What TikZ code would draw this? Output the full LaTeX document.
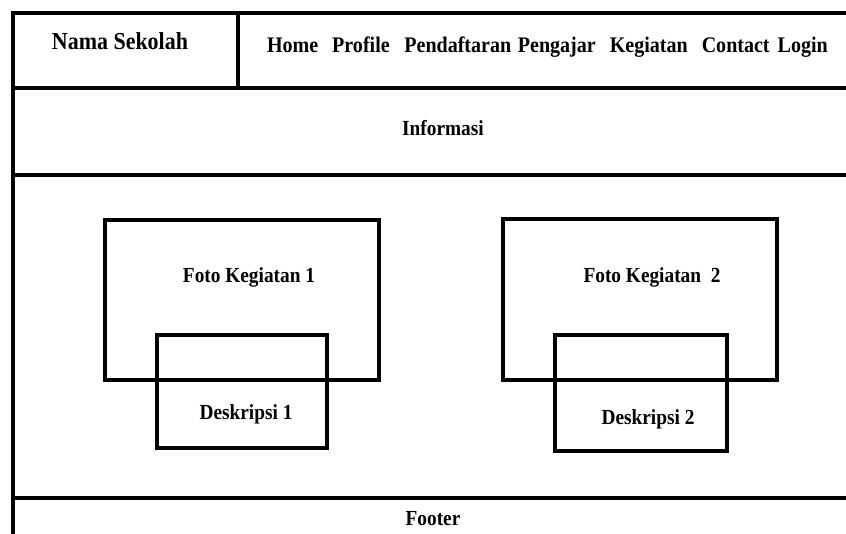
\documentclass[tikz,border=0pt]{standalone}
\usepackage{fontspec}
\newfontfamily\wffont[FakeStretch=0.9]{Liberation Serif}
\usetikzlibrary{positioning}

\begin{document}
\begin{tikzpicture}
[x=0.75pt, y=-0.75pt, line width=3pt,
 lbl/.style={font=\wffont\bfseries\fontsize{16.1}{18}\selectfont, inner sep=0pt, anchor=base},
 judul/.style={lbl, font=\wffont\bfseries\fontsize{18.3}{20}\selectfont},
 menu/.style={lbl, font=\wffont\bfseries\fontsize{16.7}{18}\selectfont, anchor=base west}]
\clip (0,0) rectangle (846,534);
% kerangka halaman
\draw (13,13) rectangle (870,570);
\draw (238,13) -- (238,88);
\draw (13,88) -- (870,88);
\draw (13,175) -- (870,175);
\draw (13,498) -- (870,498);
% kotak kegiatan
\draw (105,220) rectangle (379,380);
\draw (157,335) rectangle (327,448);
\draw (503,219) rectangle (777,380);
\draw (555,335) rectangle (727,451);
% teks
\node[judul] (nama) at (120,50) {Nama Sekolah};
\node[menu] (navbar) at (265,53) {Home\hspace{10.5pt}Profile\hspace{11pt}Pendaftaran\hspace{5pt}Pengajar\hspace{10.5pt}Kegiatan\hspace{10.5pt}Contact\hspace{6pt}Login};
\node[lbl] (info) at (443,136) {Informasi};
\node[lbl] (foto1) at (249,283) {Foto Kegiatan 1};
\node[lbl] (foto2) at (652,283) {Foto Kegiatan\ \ 2};
\node[lbl] (desk1) at (246,420) {Deskripsi 1};
\node[lbl] (desk2) at (648,425) {Deskripsi 2};
\node[lbl] (footer) at (433,525) {Footer};
\end{tikzpicture}
\end{document}
